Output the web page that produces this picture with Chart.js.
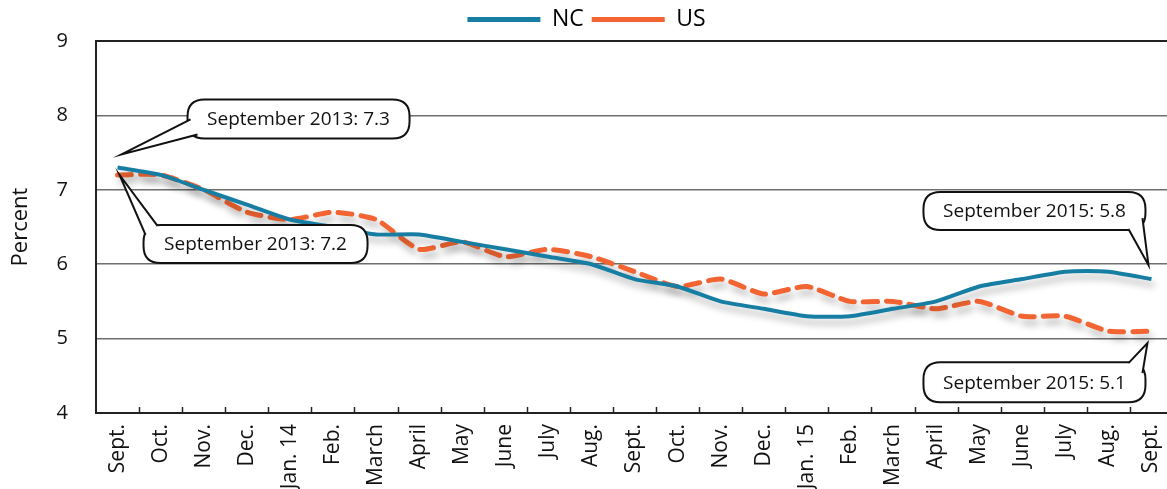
<!DOCTYPE html>
<html>
<head>
<meta charset="utf-8">
<script src="https://cdn.jsdelivr.net/npm/chart.js@4.4.1/dist/chart.umd.min.js"></script>
<style>
    html, body { margin: 0; padding: 0; background: #fff; overflow: hidden; }
    #wrap { width: 1180px; height: 489px; position: relative; }
</style>
</head>
<body>
<div id="wrap"><canvas id="unemployment-chart"></canvas></div>
<script>
const months = ['Sept.', 'Oct.', 'Nov.', 'Dec.', 'Jan. 14', 'Feb.', 'March', 'April', 'May', 'June', 'July', 'Aug.',
    'Sept.', 'Oct.', 'Nov.', 'Dec.', 'Jan. 15', 'Feb.', 'March', 'April', 'May', 'June', 'July', 'Aug.', 'Sept.'];
const ncRate = [7.3, 7.2, 7.0, 6.8, 6.6, 6.5, 6.4, 6.4, 6.3, 6.2, 6.1, 6.0,
    5.8, 5.7, 5.5, 5.4, 5.3, 5.3, 5.4, 5.5, 5.7, 5.8, 5.9, 5.9, 5.8];
const usRate = [7.2, 7.2, 7.0, 6.7, 6.6, 6.7, 6.6, 6.2, 6.3, 6.1, 6.2, 6.1,
    5.9, 5.7, 5.8, 5.6, 5.7, 5.5, 5.5, 5.4, 5.5, 5.3, 5.3, 5.1, 5.1];
const yTicks = [4, 5, 6, 7, 8, 9];

const FONT = '"Open Sans", "Noto Sans", sans-serif';
const NC_COLOR = '#177ea3';
const US_COLOR = '#f26532';

// callouts: which series/point, and where the bubble sits relative to the point
const callouts = [
    { label: 'September 2013', data: ncRate, index: 0, box: [70, -68, 222, 39], tip: [4, -13], base: [[3, 20], [10, 35]] },
    { label: 'September 2013', data: usRate, index: 0, box: [26, 50, 224, 38], tip: [2, 0], base: [[2, 10], [14, 1]] },
    { label: 'September 2015', data: ncRate, index: 24, box: [-228, -87, 222, 38], tip: [-3, -14], base: [[205, 37], [219, 26]] },
    { label: 'September 2015', data: usRate, index: 24, box: [-228, 31, 222, 40], tip: [-4, 12], base: [[205, 1], [219, 11]] }
];

const lineShadow = {
    id: 'lineShadow',
    beforeDatasetsDraw(chart) {
        const ctx = chart.ctx;
        ctx.save();
        ctx.shadowColor = 'rgba(0, 0, 0, 0.28)';
        ctx.shadowBlur = 7;
        ctx.shadowOffsetX = 3;
        ctx.shadowOffsetY = 6;
    },
    afterDatasetsDraw(chart) {
        chart.ctx.restore();
    }
};

// short tick marks between months, pointing up into the plot
const monthTicks = {
    id: 'monthTicks',
    afterDraw(chart) {
        const x = chart.scales.x;
        const area = chart.chartArea;
        const ctx = chart.ctx;
        const step = x.getPixelForValue(1) - x.getPixelForValue(0);
        ctx.save();
        ctx.strokeStyle = '#222';
        ctx.lineWidth = 1.5;
        for (let i = 0; i < months.length - 1; i++) {
            const px = Math.round(x.getPixelForValue(i) + step / 2) + 0.5;
            ctx.beginPath();
            ctx.moveTo(px, area.bottom);
            ctx.lineTo(px, area.bottom - 6);
            ctx.stroke();
        }
        ctx.restore();
    }
};

function roundRect(ctx, x, y, w, h, r) {
    ctx.beginPath();
    ctx.moveTo(x + r, y);
    ctx.lineTo(x + w - r, y);
    ctx.quadraticCurveTo(x + w, y, x + w, y + r);
    ctx.lineTo(x + w, y + h - r);
    ctx.quadraticCurveTo(x + w, y + h, x + w - r, y + h);
    ctx.lineTo(x + r, y + h);
    ctx.quadraticCurveTo(x, y + h, x, y + h - r);
    ctx.lineTo(x, y + r);
    ctx.quadraticCurveTo(x, y, x + r, y);
    ctx.closePath();
}

const calloutBubbles = {
    id: 'calloutBubbles',
    afterDraw(chart) {
        const ctx = chart.ctx;
        const xs = chart.scales.x;
        const ys = chart.scales.y;
        ctx.save();
        callouts.forEach(c => {
            const value = c.data[c.index];
            const ax = xs.getPixelForValue(c.index);
            const ay = ys.getPixelForValue(value);
            const bx = ax + c.box[0], by = ay + c.box[1], bw = c.box[2], bh = c.box[3];
            const tx = ax + c.tip[0], ty = ay + c.tip[1];

            ctx.lineWidth = 2;
            ctx.strokeStyle = '#111';
            ctx.fillStyle = '#fff';
            roundRect(ctx, bx, by, bw, bh, 17);
            ctx.fill();
            ctx.stroke();

            const p1 = [bx + c.base[0][0], by + c.base[0][1]];
            const p2 = [bx + c.base[1][0], by + c.base[1][1]];
            ctx.beginPath();
            ctx.moveTo(p1[0], p1[1]);
            ctx.lineTo(tx, ty);
            ctx.lineTo(p2[0], p2[1]);
            ctx.closePath();
            ctx.fill();
            ctx.beginPath();
            ctx.moveTo(p1[0], p1[1]);
            ctx.lineTo(tx, ty);
            ctx.lineTo(p2[0], p2[1]);
            ctx.stroke();

            ctx.fillStyle = '#111';
            ctx.font = '19px ' + FONT;
            ctx.textAlign = 'center';
            ctx.textBaseline = 'middle';
            ctx.fillText(c.label + ': ' + value.toFixed(1), bx + bw / 2, by + bh / 2 + 1);
        });
        ctx.restore();
    }
};

const ctx = document.getElementById('unemployment-chart').getContext('2d');
new Chart(ctx, {
    type: 'line',
    data: {
        labels: months,
        datasets: [{
            label: 'NC',
            data: ncRate,
            borderColor: NC_COLOR,
            backgroundColor: NC_COLOR,
            borderWidth: 4,
            pointRadius: 0,
            tension: 0.2,
            borderJoinStyle: 'round'
        }, {
            label: 'US',
            data: usRate,
            borderColor: US_COLOR,
            backgroundColor: US_COLOR,
            borderWidth: 5,
            borderDash: [14, 9],
            borderCapStyle: 'round',
            pointRadius: 0,
            tension: 0.2
        }]
    },
    options: {
        responsive: true,
        maintainAspectRatio: false,
        animation: false,
        layout: {
            padding: { top: 0, right: 7, bottom: 0, left: 0 }
        },
        scales: {
            x: {
                offset: true,
                grid: { display: false },
                border: { display: true, color: '#222', width: 2 },
                ticks: {
                    autoSkip: false,
                    maxRotation: 90,
                    minRotation: 90,
                    padding: 3,
                    color: '#111',
                    font: { family: FONT, size: 21 }
                },
                afterFit: scale => { scale.height = 76; }
            },
            y: {
                min: 4,
                max: 9,
                afterBuildTicks: scale => { scale.ticks = yTicks.map(v => ({ value: v })); },
                grid: {
                    drawTicks: false,
                    color: c => (c.tick && c.tick.value === 9) ? '#222' : '#6f6f6f',
                    lineWidth: c => (c.tick && c.tick.value === 9) ? 2 : 1.5
                },
                border: { display: true, color: '#222', width: 2 },
                ticks: {
                    padding: 28,
                    color: '#111',
                    font: { family: FONT, size: 20 }
                },
                title: {
                    display: true,
                    text: 'Percent',
                    color: '#111',
                    padding: { top: 8, bottom: 0 },
                    font: { family: FONT, size: 22 }
                },
                afterFit: scale => { scale.width = 96; }
            }
        },
        plugins: {
            legend: {
                display: true,
                position: 'top',
                labels: {
                    boxWidth: 73,
                    boxHeight: 5,
                    padding: 8,
                    color: '#111',
                    font: { family: FONT, size: 23 },
                    generateLabels: chart => chart.data.datasets.map((ds, i) => ({
                        text: ds.label,
                        fillStyle: ds.borderColor,
                        strokeStyle: ds.borderColor,
                        lineWidth: 0,
                        datasetIndex: i,
                        hidden: false
                    }))
                }
            },
            tooltip: { enabled: false }
        }
    },
    plugins: [lineShadow, monthTicks, calloutBubbles]
});
</script>
</body>
</html>
